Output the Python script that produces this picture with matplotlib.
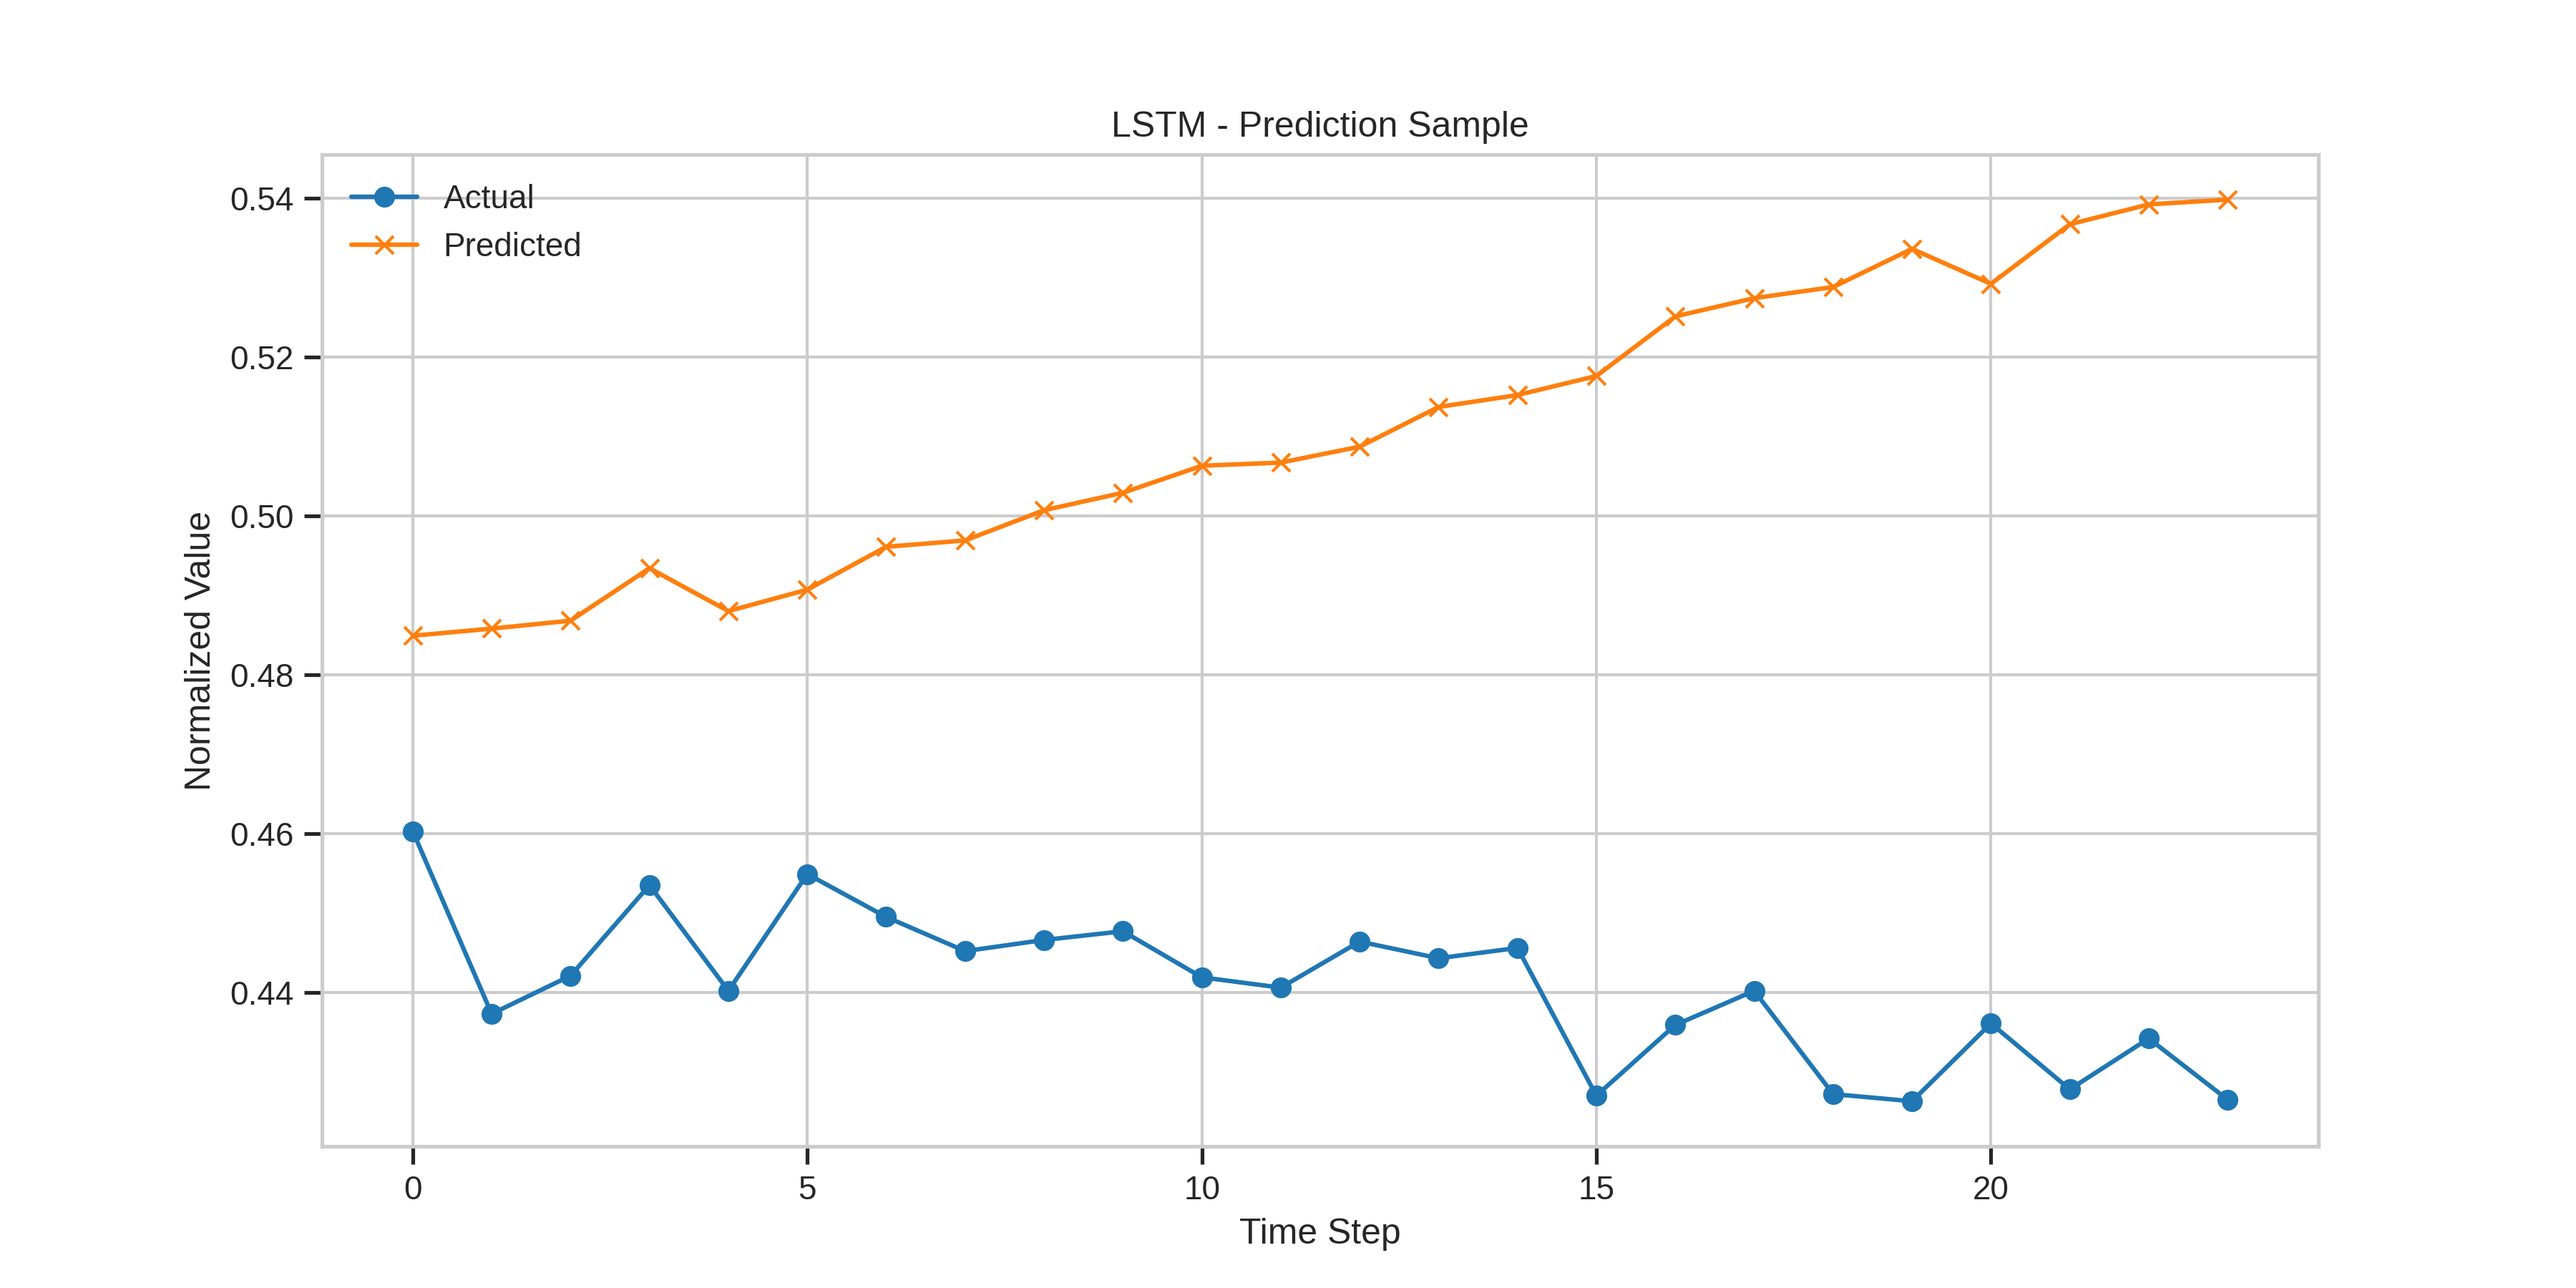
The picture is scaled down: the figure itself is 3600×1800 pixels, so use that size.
import matplotlib
matplotlib.use("Agg")
import matplotlib.pyplot as plt
import seaborn as sns

sns.set_theme(style="whitegrid")
sns.set_style("whitegrid", {"xtick.bottom": True, "ytick.left": True})
plt.rcParams['font.family'] = ['Arial', 'Liberation Sans', 'DejaVu Sans']

steps = list(range(24))
actual = [0.4603, 0.4373, 0.4421, 0.4535, 0.4402, 0.4549, 0.4495, 0.4452, 0.4466, 0.4477,
          0.4419, 0.4406, 0.4464, 0.4443, 0.4456, 0.4270, 0.4359, 0.4402, 0.4272, 0.4263,
          0.4361, 0.4278, 0.4342, 0.4265]
predicted = [0.4849, 0.4858, 0.4868, 0.4934, 0.4880, 0.4907, 0.4961, 0.4969, 0.5007, 0.5029,
             0.5063, 0.5067, 0.5087, 0.5137, 0.5152, 0.5176, 0.5251, 0.5274, 0.5288, 0.5336,
             0.5292, 0.5367, 0.5392, 0.5398]

fig, ax = plt.subplots(figsize=(12, 6), dpi=300)
ax.plot(steps, actual, marker='o', color='#1f77b4', label='Actual')
ax.plot(steps, predicted, marker='x', color='#ff7f0e', label='Predicted')
ax.set_title('LSTM - Prediction Sample')
ax.set_xlabel('Time Step')
ax.set_ylabel('Normalized Value')
ax.legend(frameon=False, loc='upper left')
fig.savefig('out.png')
